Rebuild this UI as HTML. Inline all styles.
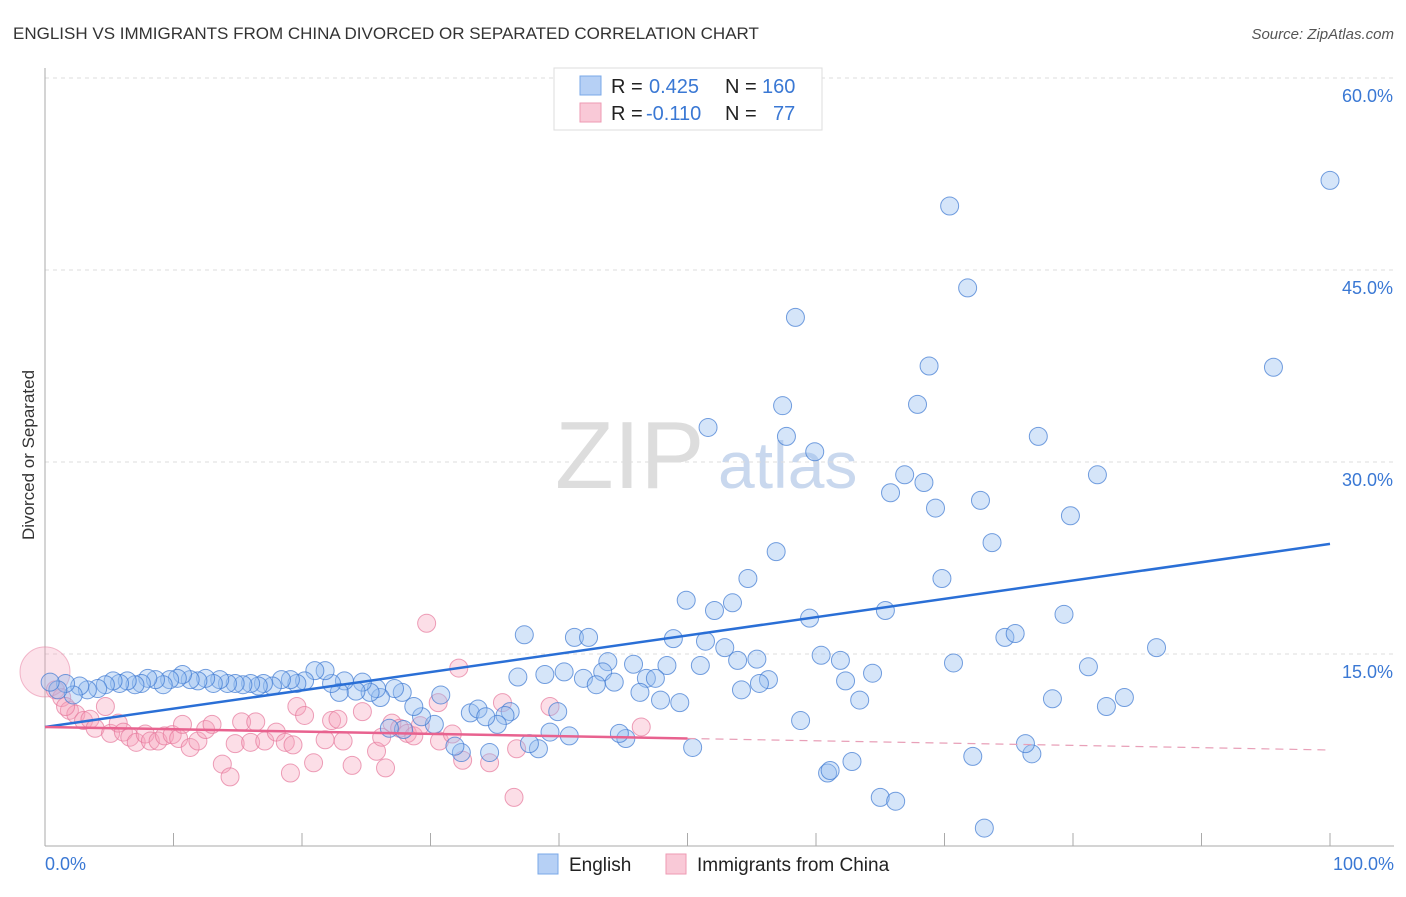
<!DOCTYPE html>
<html><head><meta charset="utf-8"><style>
body{margin:0;background:#fff;font-family:"Liberation Sans",sans-serif;}
svg text{font-family:"Liberation Sans",sans-serif;}
</style></head><body>
<svg id="c" width="1406" height="892" xmlns="http://www.w3.org/2000/svg">
<text x="13" y="39" font-size="17" fill="#333">ENGLISH VS IMMIGRANTS FROM CHINA DIVORCED OR SEPARATED CORRELATION CHART</text>
<text x="1394" y="39" font-size="15" fill="#555" text-anchor="end" font-style="italic">Source: ZipAtlas.com</text>
<text x="555" y="488" font-size="96" fill="#ddd" font-family="Liberation Serif">ZIP</text>
<text x="718" y="488" font-size="66" fill="#c9d8ee">atlas</text>
<text x="34" y="455" font-size="17" fill="#333" transform="rotate(-90 34 455)" text-anchor="middle">Divorced or Separated</text>
<g id="grid"></g><g id="axes"></g><g id="pts"></g><g id="trend"></g>
<g>
<rect x="554" y="68" width="268" height="62" fill="#fff" stroke="#ddd"/>
<rect x="580" y="76" width="21" height="19" fill="#b6d0f5" stroke="#7aa8e8"/>
<rect x="580" y="103" width="21" height="19" fill="#f9c9d7" stroke="#ee9ab3"/>
<text x="611" y="93" font-size="20" fill="#222">R = </text><text x="649" y="93" font-size="20" fill="#3a78d4">0.425</text>
<text x="725" y="93" font-size="20" fill="#222">N = </text><text x="762" y="93" font-size="20" fill="#3a78d4">160</text>
<text x="611" y="120" font-size="20" fill="#222">R = </text><text x="646" y="120" font-size="20" fill="#3a78d4">-0.110</text>
<text x="725" y="120" font-size="20" fill="#222">N = </text><text x="773" y="120" font-size="20" fill="#3a78d4">77</text>
</g>
<g>
<rect x="538" y="854" width="20" height="20" fill="#b6d0f5" stroke="#7aa8e8"/>
<text x="569" y="871" font-size="19" fill="#222">English</text>
<rect x="666" y="854" width="20" height="20" fill="#f9c9d7" stroke="#ee9ab3"/>
<text x="697" y="871" font-size="19" fill="#222">Immigrants from China</text>
</g>
</svg>
<script>
const yTicks=[15,30,45,60];
const xTickLabels=["0.0%","100.0%"];
const blueX=[100,70.4,71.8,58.4,95.6,68.8,57.4,67.9,51.6,57.7,77.3,59.9,81.9,66.9,68.4,65.8,72.8,69.3,79.8,73.7,56.9,54.7,69.8,49.9,53.5,52.1,59.5,65.4,79.3,37.3,41.2,42.3,48.9,51.4,74.7,75.5,52.9,86.5,60.4,61.9,55.4,53.9,43.8,45.8,48.4,51.0,70.7,81.2,38.9,40.4,43.4,36.8,41.9,44.3,42.9,46.8,47.5,64.4,62.3,56.3,55.6,54.2,46.3,47.9,49.4,63.4,78.4,84.0,82.6,58.8,60.9,61.1,62.8,65.0,66.2,72.2,76.8,76.3,73.1,50.4,39.3,40.8,45.2,44.7,39.9,38.4,37.7,36.2,35.8,35.2,34.6,32.4,31.9,33.1,33.7,34.3,30.8,30.3,29.3,28.7,27.8,27.2,26.1,25.8,25.3,24.7,24.2,23.3,22.9,22.3,21.8,21.0,20.2,19.6,19.1,18.4,17.7,17.0,16.6,16.0,15.4,14.8,14.2,13.6,13.1,12.5,11.9,11.3,10.7,10.3,9.7,9.2,8.6,8.0,7.5,7.0,6.4,5.8,5.3,4.7,4.1,3.3,2.7,2.2,1.6,1.0,0.4,27.9,26.8];
const blueY=[52.0,50.0,43.6,41.3,37.4,37.5,34.4,34.5,32.7,32.0,32.0,30.8,29.0,29.0,28.4,27.6,27.0,26.4,25.8,23.7,23.0,20.9,20.9,19.2,19.0,18.4,17.8,18.4,18.1,16.5,16.3,16.3,16.2,16.0,16.3,16.6,15.5,15.5,14.9,14.5,14.6,14.5,14.4,14.2,14.1,14.1,14.3,14.0,13.4,13.6,13.6,13.2,13.1,12.8,12.6,13.1,13.1,13.5,12.9,13.0,12.7,12.2,12.0,11.4,11.2,11.4,11.5,11.6,10.9,9.8,5.7,5.9,6.6,3.8,3.5,7.0,7.2,8.0,1.4,7.7,8.9,8.6,8.4,8.8,10.5,7.6,8.0,10.5,10.2,9.5,7.3,7.3,7.8,10.4,10.7,10.1,11.8,9.5,10.1,10.9,12.0,12.3,11.6,12.3,12.0,12.8,12.1,12.9,12.0,12.7,13.7,13.7,12.9,12.7,13.0,13.0,12.5,12.7,12.5,12.7,12.6,12.7,12.7,13.0,12.7,13.1,12.9,13.0,13.4,13.1,13.0,12.6,13.0,13.1,12.7,12.6,12.9,12.7,12.9,12.6,12.3,12.2,12.5,11.8,12.7,12.2,12.8,9.1,9.2];
const pinkX=[29.7,32.2,0.8,1.3,1.9,2.4,3.0,3.5,3.9,4.7,5.1,5.7,6.1,6.6,7.1,7.8,8.2,8.8,9.3,9.9,10.4,10.7,11.3,11.9,12.5,13.0,13.8,14.4,14.8,15.3,16.0,16.4,17.1,18.0,18.7,19.1,19.3,19.6,20.2,20.9,21.8,22.3,22.8,23.2,23.9,24.7,25.8,26.2,26.5,27.0,27.6,28.2,28.7,29.2,30.6,30.7,31.7,32.5,34.6,35.6,36.5,36.7,39.3,46.4,1.6];
const pinkY=[17.4,13.9,12.2,11.6,10.6,10.3,9.8,9.9,9.2,10.9,8.8,9.6,8.9,8.5,8.1,8.75,8.2,8.2,8.6,8.7,8.4,9.5,7.7,8.2,9.1,9.5,6.4,5.4,8.0,9.7,8.1,9.7,8.2,8.9,8.1,5.7,7.9,10.9,10.2,6.5,8.3,9.8,9.9,8.2,6.3,10.5,7.4,8.5,6.1,9.6,9.2,8.8,8.6,9.4,11.2,8.2,8.75,6.7,6.5,11.2,3.8,7.6,10.9,9.3,10.9];
const blueTrend=[9.3,23.6];
const pinkTrend=[9.3,7.5];
const NS="http://www.w3.org/2000/svg";
const X=v=>45+v*12.85, Y=v=>846-v*12.8;
function mk(t,a,p){const e=document.createElementNS(NS,t);for(const k in a)e.setAttribute(k,a[k]);document.getElementById(p).appendChild(e);return e;}
yTicks.forEach(t=>{
 const l=mk('line',{x1:45,x2:1394,y1:Y(t),y2:Y(t),stroke:'#ddd','stroke-dasharray':'4,4'},'grid');
 
 
 const tx=mk('text',{x:1393,y:Y(t)+24,'font-size':18,fill:'#3a78d4','text-anchor':'end'},'grid');
 tx.textContent=t.toFixed(1)+'%';
 
 
});
const ya=mk('line',{x1:45,x2:45,y1:68,y2:846,stroke:'#aaa'},'axes');


const xa=mk('line',{x1:45,x2:1394,y1:846,y2:846,stroke:'#aaa'},'axes');


for(let i=0;i<=10;i++){const t=mk('line',{x1:X(i*10),x2:X(i*10),y1:833,y2:846,stroke:'#aaa'},'axes');
 
 }
xTickLabels.forEach((s,i)=>{const t=mk('text',{x:i?1394:45,y:870,'font-size':18,fill:'#3a78d4','text-anchor':i?'end':'start'},'axes');t.textContent=s;
 
 });
pinkX.forEach((v,i)=>{const c=mk('circle',{cx:X(v),cy:Y(pinkY[i]),r:9,fill:'rgba(245,160,185,0.35)',stroke:'rgba(230,120,155,0.7)','stroke-width':1},'pts');
 
 });
const big=mk('circle',{cx:X(0),cy:Y(13.6),r:25,fill:'rgba(245,160,185,0.3)',stroke:'rgba(230,120,155,0.5)'},'pts');


blueX.forEach((v,i)=>{const c=mk('circle',{cx:X(v),cy:Y(blueY[i]),r:9,fill:'rgba(150,190,240,0.4)',stroke:'rgba(60,120,210,0.7)','stroke-width':1},'pts');
 
 });
const bt=mk('line',{x1:X(0),y1:Y(blueTrend[0]),x2:X(100),y2:Y(blueTrend[1]),stroke:'#2a6fd6','stroke-width':2.5},'trend');


const pm=(pinkTrend[0]+pinkTrend[1])/2;
const pt=mk('line',{x1:X(0),y1:Y(pinkTrend[0]),x2:X(50),y2:Y(pm),stroke:'#e8628f','stroke-width':2.5},'trend');


const pd=mk('line',{x1:X(50),y1:Y(pm),x2:X(100),y2:Y(pinkTrend[1]),stroke:'#e8a0b8','stroke-width':1.2,'stroke-dasharray':'8,6'},'trend');


</script>
</body></html>
